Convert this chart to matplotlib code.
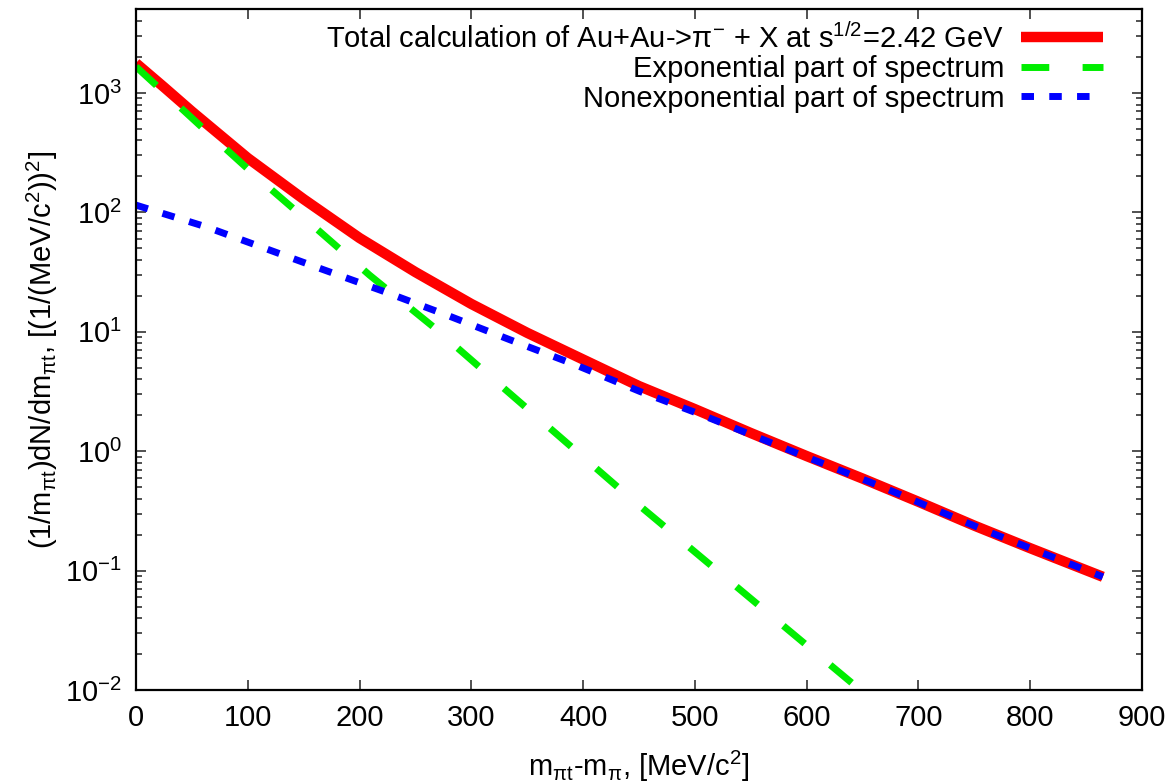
"""
Pion transverse-mass spectrum: total, exponential and nonexponential parts.
"""

import matplotlib

matplotlib.use("Agg")

import matplotlib.pyplot as plt
from matplotlib.ticker import LogLocator, MultipleLocator, NullFormatter

# Values.
total_x = [0, 25, 50, 100, 150, 200, 250, 300, 350, 400, 450, 500,
           550, 600, 650, 700, 750, 800, 865]
total_y = [1775, 1120, 700, 285, 129, 61, 31.6, 17.1, 9.8, 5.86, 3.51, 2.25,
           1.42, 0.91, 0.59, 0.377, 0.238, 0.154, 0.0887]

expo_x = [0, 57, 108, 158, 209, 266, 324, 380, 441, 520, 648]
expo_y = [1660, 537, 198, 78, 29.8, 11.0, 3.7, 1.30, 0.415, 0.10, 0.01]

nonexpo_x = [0, 63, 120, 167, 221, 278, 334, 394, 451, 507, 599, 668,
             722, 763, 865]
nonexpo_y = [115, 75.5, 48.2, 33.3, 21.9, 13.8, 8.61, 5.25, 3.16, 2.0, 0.90,
             0.50, 0.305, 0.211, 0.0887]

labels = [
    r"Total calculation of Au+Au->π$\mathregular{^{-}}$ + X at s$\mathregular{^{1/2}}$=2.42 GeV",
    "Exponential part of spectrum",
    "Nonexponential part of spectrum",
]

FS = 21

plt.rcParams["font.family"] = ["Liberation Sans", "DejaVu Sans"]
plt.rcParams["mathtext.fontset"] = "custom"
plt.rcParams["mathtext.rm"] = "Liberation Sans"
plt.rcParams["lines.scale_dashes"] = False

fig = plt.figure(figsize=(11.66, 7.84), dpi=100)
ax = fig.add_axes([0.1166, 0.1199, 0.8628, 0.868])

ax.plot(total_x, total_y, color="#ff0000", linewidth=7.5,
        solid_capstyle="butt", label=labels[0])
ax.plot(expo_x, expo_y, color="#00ee00", linewidth=5,
        dashes=(20, 24), dash_capstyle="butt", label=labels[1])
ax.plot(nonexpo_x, nonexpo_y, color="#0000ff", linewidth=5,
        dashes=(9, 11), dash_capstyle="butt", label=labels[2])

ax.set_yscale("log")
ax.set_xlim(0, 900)
ax.set_ylim(0.01, 5000)

ax.xaxis.set_major_locator(MultipleLocator(100))
ax.yaxis.set_major_locator(LogLocator(base=10, numticks=12))
ax.yaxis.set_minor_locator(LogLocator(base=10, subs=range(2, 10), numticks=12))
ax.yaxis.set_minor_formatter(NullFormatter())

ax.tick_params(which="both", direction="in", top=True, right=True,
               labelsize=FS, width=1.2, color="#333333")
ax.tick_params(which="major", length=7, pad=10)
ax.tick_params(which="minor", length=4)
for side in ax.spines.values():
    side.set_linewidth(1.6)

ax.set_xlabel(r"m$\mathregular{_{πt}}$-m$\mathregular{_{π}}$, [MeV/c$\mathregular{^{2}}$]",
              fontsize=FS, labelpad=12)
ax.set_ylabel(r"(1/m$\mathregular{_{πt}}$)dN/dm$\mathregular{_{πt}}$, "
              r"[(1/(MeV/c$\mathregular{^{2}}$))$\mathregular{^{2}}$]",
              fontsize=FS, labelpad=4)

ax.legend(loc="upper right", bbox_to_anchor=(0.961, 0.980), frameon=False,
          markerfirst=False, fontsize=FS, handlelength=2.8, handletextpad=0.58,
          labelspacing=0.05, borderaxespad=0, borderpad=0)

fig.savefig("out.png", dpi=100)
